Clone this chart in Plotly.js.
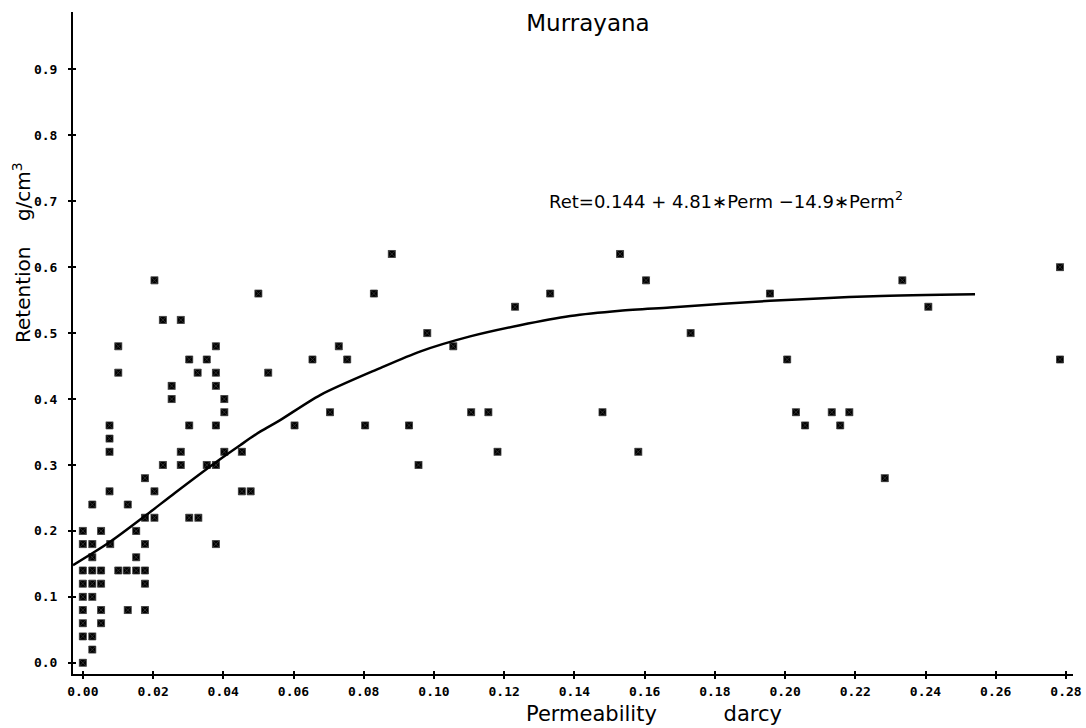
<!DOCTYPE html>
<html>
<head>
<meta charset="utf-8">
<script src="https://cdn.plot.ly/plotly-3.0.1.min.js"></script>
<style>
  html, body { margin: 0; padding: 0; background: #fff; }
  #chart { width: 1086px; height: 728px; }
</style>
</head>
<body>
<div id="chart"></div>
<script>
// Permeability (darcy) and retention (g/cm3) of the Murrayana samples
const permeability = [
  0.0000, 0.0027, 0.0000, 0.0000, 0.0052, 0.0000, 0.0052, 0.0128, 0.0177,
  0.0000, 0.0027, 0.0027, 0.0000, 0.0027, 0.0052, 0.0177,
  0.0000, 0.0027, 0.0052, 0.0101, 0.0125, 0.0152, 0.0177,
  0.0027, 0.0152,
  0.0000, 0.0027, 0.0078, 0.0177, 0.0379,
  0.0000, 0.0052, 0.0152,
  0.0177, 0.0204, 0.0303, 0.0329,
  0.0027, 0.0128,
  0.0076, 0.0204, 0.0453, 0.0478,
  0.0177, 0.2284,
  0.0228, 0.0279, 0.0353, 0.0379, 0.0956,
  0.0076, 0.0279, 0.0403, 0.0453, 0.1181, 0.1582,
  0.0076,
  0.0076, 0.0303, 0.0379, 0.0603, 0.0804, 0.0929, 0.2057, 0.2157,
  0.0403, 0.0704, 0.1106, 0.1155, 0.1480, 0.2031, 0.2133, 0.2183,
  0.0253, 0.0403,
  0.0253, 0.0379,
  0.0101, 0.0327, 0.0379, 0.0528,
  0.0303, 0.0353, 0.0654, 0.0753, 0.2006, 0.2783,
  0.0101, 0.0379, 0.0729, 0.1055,
  0.0981, 0.1731,
  0.0228, 0.0279,
  0.1231, 0.2408,
  0.0500, 0.0829, 0.1331, 0.1957,
  0.0204, 0.1604, 0.2334,
  0.2783,
  0.0880, 0.1530
];
const retention = [
  0.00, 0.02, 0.04, 0.06, 0.06, 0.08, 0.08, 0.08, 0.08,
  0.10, 0.10, 0.04, 0.12, 0.12, 0.12, 0.12,
  0.14, 0.14, 0.14, 0.14, 0.14, 0.14, 0.14,
  0.16, 0.16,
  0.18, 0.18, 0.18, 0.18, 0.18,
  0.20, 0.20, 0.20,
  0.22, 0.22, 0.22, 0.22,
  0.24, 0.24,
  0.26, 0.26, 0.26, 0.26,
  0.28, 0.28,
  0.30, 0.30, 0.30, 0.30, 0.30,
  0.32, 0.32, 0.32, 0.32, 0.32, 0.32,
  0.34,
  0.36, 0.36, 0.36, 0.36, 0.36, 0.36, 0.36, 0.36,
  0.38, 0.38, 0.38, 0.38, 0.38, 0.38, 0.38, 0.38,
  0.40, 0.40,
  0.42, 0.42,
  0.44, 0.44, 0.44, 0.44,
  0.46, 0.46, 0.46, 0.46, 0.46, 0.46,
  0.48, 0.48, 0.48, 0.48,
  0.50, 0.50,
  0.52, 0.52,
  0.54, 0.54,
  0.56, 0.56, 0.56, 0.56,
  0.58, 0.58, 0.58,
  0.60,
  0.62, 0.62
];

// Fitted regression curve, sampled along its length
const fitPerm = [-0.0028, 0.0078, 0.0177, 0.0263, 0.0381, 0.0448, 0.0505, 0.0562, 0.0676,
  0.0847, 0.0960, 0.1103, 0.1245, 0.1388, 0.1530, 0.1672, 0.1957, 0.2251, 0.2541];
const fitRet = [0.148, 0.1835, 0.2226, 0.258, 0.305, 0.330, 0.3505, 0.368, 0.406,
  0.447, 0.472, 0.495, 0.512, 0.526, 0.534, 0.539, 0.549, 0.556, 0.559];

const xTicks = [0.00, 0.02, 0.04, 0.06, 0.08, 0.10, 0.12, 0.14, 0.16, 0.18, 0.20, 0.22, 0.24, 0.26, 0.28];
const yTicks = [0.0, 0.1, 0.2, 0.3, 0.4, 0.5, 0.6, 0.7, 0.8, 0.9];

const nb = n => '\u00A0'.repeat(n);
const chartTitle = 'Murrayana';
const xTitle = 'Permeability' + nb(10) + 'darcy';
const yTitle = 'Retention' + nb(4) + 'g/cm<sup>3</sup>';
const equation = 'Ret=0.144 + 4.81\u2217Perm \u221214.9\u2217Perm<sup>2</sup>';

const xRange = [-0.0028, 0.282];
const yRange = [-0.017, 0.987];

const textFont = { family: 'DejaVu Sans, Noto Sans, sans-serif', color: '#000' };
const tickFont = { family: 'DejaVu Sans Mono, Liberation Mono, monospace', size: 13, color: '#000', weight: 'bold' };

const traces = [
  {
    type: 'scatter', mode: 'markers',
    x: permeability, y: retention,
    marker: { symbol: 'square-x', size: 7, color: '#000', line: { color: '#3a3a3a', width: 0.8 } },
    hoverinfo: 'x+y', showlegend: false
  },
  {
    type: 'scatter', mode: 'lines',
    x: fitPerm, y: fitRet,
    line: { color: '#000', width: 2.5, shape: 'spline', smoothing: 0.8 },
    showlegend: false
  },
  // carries the inner half of the tick crosses
  { type: 'scatter', mode: 'markers', x: [], y: [], xaxis: 'x2', yaxis: 'y2', showlegend: false, hoverinfo: 'skip' }
];

const baseAxis = {
  showgrid: false, zeroline: false, showline: true,
  linecolor: '#000', linewidth: 2,
  ticks: 'outside', ticklen: 3, tickwidth: 2, tickcolor: '#000',
  tickfont: tickFont
};

const layout = {
  width: 1086, height: 728,
  paper_bgcolor: '#fff', plot_bgcolor: '#fff',
  margin: { l: 73, r: 13, t: 12, b: 54 },
  showlegend: false,
  title: {
    text: chartTitle,
    font: Object.assign({ size: 23 }, textFont),
    xref: 'container', x: 0.5414, xanchor: 'center',
    yref: 'container', y: 0.968, yanchor: 'middle'
  },
  xaxis: Object.assign({}, baseAxis, {
    range: xRange, tickvals: xTicks, tickformat: '.2f', ticklabelstandoff: 1
  }),
  yaxis: Object.assign({}, baseAxis, {
    range: yRange, tickvals: yTicks, tickformat: '.1f', ticklabelstandoff: 8
  }),
  xaxis2: {
    overlaying: 'x', anchor: 'y2', side: 'bottom', range: xRange, tickvals: xTicks,
    showticklabels: false, showgrid: false, zeroline: false, showline: false,
    ticks: 'inside', ticklen: 3, tickwidth: 2, tickcolor: '#000'
  },
  yaxis2: {
    overlaying: 'y', anchor: 'x2', side: 'left', range: yRange, tickvals: yTicks,
    showticklabels: false, showgrid: false, zeroline: false, showline: false,
    ticks: 'inside', ticklen: 3, tickwidth: 2, tickcolor: '#000'
  },
  annotations: [
    {
      text: xTitle, xref: 'paper', yref: 'paper', x: 0.581, y: -0.0604,
      xanchor: 'center', yanchor: 'middle', showarrow: false,
      font: Object.assign({ size: 21 }, textFont)
    },
    {
      text: yTitle, xref: 'paper', yref: 'paper', x: -0.051, y: 0.636,
      xanchor: 'center', yanchor: 'middle', textangle: -90, showarrow: false,
      font: Object.assign({ size: 20 }, textFont)
    },
    {
      text: equation, xref: 'paper', yref: 'paper', x: 0.653, y: 0.716,
      xanchor: 'center', yanchor: 'middle', showarrow: false,
      font: Object.assign({ size: 18 }, textFont)
    }
  ]
};

Plotly.newPlot('chart', traces, layout, { staticPlot: true, displayModeBar: false });
</script>
</body>
</html>
